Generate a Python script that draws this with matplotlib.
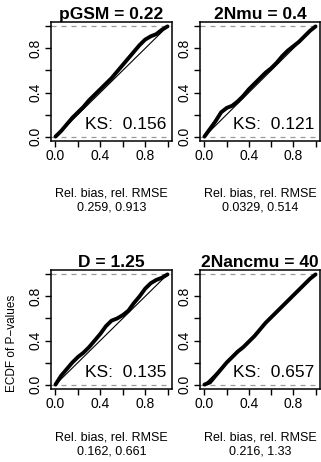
import matplotlib
matplotlib.use("Agg")
import matplotlib.pyplot as plt

plt.rcParams["font.family"] = ["Liberation Sans", "DejaVu Sans"]

# ECDF of P-values
grid_x = [0.0, 0.05, 0.1, 0.15, 0.2, 0.25, 0.3, 0.35, 0.4, 0.45, 0.5,
          0.55, 0.6, 0.65, 0.7, 0.75, 0.8, 0.85, 0.9, 0.95, 1.0]

ecdf_pgsm = [0.0, 0.05, 0.11, 0.17, 0.22, 0.27, 0.33, 0.38, 0.43, 0.48, 0.53,
             0.59, 0.65, 0.71, 0.77, 0.83, 0.88, 0.91, 0.93, 0.97, 1.0]
ecdf_2nmu = [0.0, 0.07, 0.14, 0.22, 0.26, 0.28, 0.32, 0.37, 0.43, 0.48, 0.53,
             0.58, 0.62, 0.67, 0.73, 0.78, 0.82, 0.86, 0.91, 0.96, 1.0]
ecdf_d = [0.0, 0.08, 0.14, 0.20, 0.25, 0.29, 0.34, 0.40, 0.46, 0.53, 0.58,
          0.60, 0.63, 0.67, 0.74, 0.80, 0.87, 0.92, 0.95, 0.97, 1.0]
ecdf_2nancmu = [0.0, 0.02, 0.08, 0.14, 0.20, 0.25, 0.30, 0.34, 0.39, 0.44, 0.50,
                0.56, 0.61, 0.66, 0.71, 0.76, 0.81, 0.86, 0.91, 0.96, 1.0]

titles = ["pGSM = 0.22", "2Nmu = 0.4", "D = 1.25", "2Nancmu = 40"]
ks_values = ["0.156", "0.121", "0.135", "0.657"]
bias_rmse = ["0.259, 0.913", "0.0329, 0.514", "0.162, 0.661", "0.216, 1.33"]
curves = [ecdf_pgsm, ecdf_2nmu, ecdf_d, ecdf_2nancmu]

W, H = 321, 462
fig = plt.figure(figsize=(W / 100, H / 100), dpi=100)

# panel boxes in pixels: (left, top, right, bottom)
boxes = [(51, 22, 172, 141), (200, 22, 320, 141),
         (51, 270, 172, 389), (200, 270, 320, 389)]
footer_y = [(193, 207), (193, 207), (437, 451), (437, 451)]

for i, (l, t, r, b) in enumerate(boxes):
    ax = fig.add_axes([l / W, 1 - b / H, (r - l) / W, (b - t) / H])
    ax.set_xlim(-0.04, 1.04)
    ax.set_ylim(-0.04, 1.04)
    ax.axhline(0, color="#999999", lw=0.9, ls=(0, (4, 4)))
    ax.axhline(1, color="#999999", lw=0.9, ls=(0, (4, 4)))
    ax.plot([0, 1], [0, 1], color="black", lw=0.8)
    ax.plot(grid_x, curves[i], color="black", lw=2.8,
            solid_capstyle="round", solid_joinstyle="round")
    ticks = [0, 0.2, 0.4, 0.6, 0.8, 1.0]
    labels = ["0.0", "", "0.4", "", "0.8", ""]
    ax.set_xticks(ticks)
    ax.set_xticklabels(labels)
    ax.set_yticks(ticks)
    ax.set_yticklabels(labels, rotation=90, va="center")
    ax.tick_params(length=4, width=1.0, labelsize=10, pad=2)
    for s in ax.spines.values():
        s.set_linewidth(1.1)
    ax.set_title(titles[i], fontsize=12.5, fontweight="bold", pad=1)
    ax.text(0.99, 0.065, "KS:  " + ks_values[i], ha="right", va="baseline",
            fontsize=12.5)
    cx = (l + r) / 2 / W
    fig.text(cx, 1 - footer_y[i][0] / H, "Rel. bias, rel. RMSE",
             ha="center", va="center", fontsize=9)
    fig.text(cx, 1 - footer_y[i][1] / H, bias_rmse[i],
             ha="center", va="center", fontsize=9)

fig.text(12 / W, 1 - 343 / H, "ECDF of P\u2212values", rotation=90,
         ha="center", va="center", fontsize=8.5)

fig.savefig("out.png", dpi=100)
